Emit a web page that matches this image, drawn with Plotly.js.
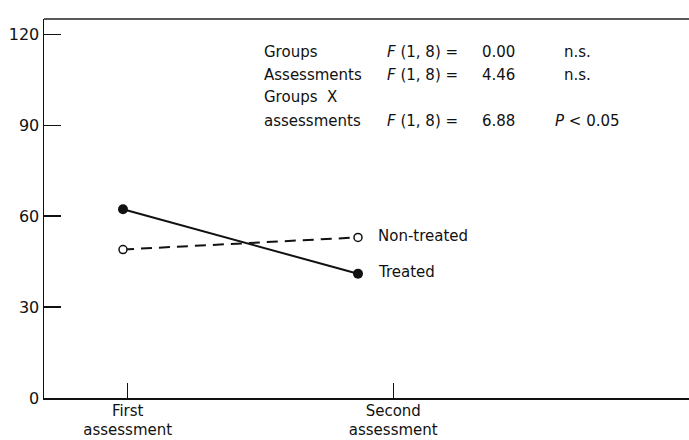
<!DOCTYPE html>
<html>
<head>
<meta charset="utf-8">
<script src="https://cdn.plot.ly/plotly-3.0.1.min.js"></script>
<style>html,body{margin:0;padding:0;background:#fff;}#chart{width:689px;height:440px;}</style>
</head>
<body>
<div id="chart"></div>
<script>
// Data
const assessments = [1, 2];
const treated = [62.3, 41];
const nonTreated = [49, 53];
const seriesNames = ['Treated', 'Non-treated'];
const xTickLabels = ['First<br>assessment', 'Second<br>assessment'];
const yTickVals = [0, 30, 60, 90, 120];
const statLabels = ['Groups', 'Assessments', 'Groups  X', 'assessments'];
const statF = ['<i>F</i> (1, 8) =', '<i>F</i> (1, 8) =', '', '<i>F</i> (1, 8) ='];
const statValues = ['0.00', '4.46', '', '6.88'];
const statSig = ['n.s.', 'n.s.', '', '<i>P</i> < 0.05'];

const W = 689, H = 440, L = 44, R = 0, T = 19, B = 42;
const pw = W - L - R, ph = H - T - B;
const px = x => (x - L) / pw;
const py = y => (H - B - y) / ph;

const font = {family: 'DejaVu Sans, Arial, sans-serif', size: 15, color: '#111'};

const traces = [
  {x: assessments, y: treated, name: seriesNames[0], mode: 'lines+markers',
   line: {color: '#111', width: 2}, marker: {color: '#111', size: 10, symbol: 'circle'}},
  {x: assessments, y: nonTreated, name: seriesNames[1], mode: 'lines+markers',
   line: {color: '#111', width: 2, dash: '11px,7px'},
   marker: {color: '#fff', size: 8, symbol: 'circle', line: {color: '#111', width: 1.5}}}
];

const annotations = [];
annotations.push({x: assessments[1], y: nonTreated[1], xref: 'x', yref: 'y', text: seriesNames[1],
  showarrow: false, xanchor: 'left', yanchor: 'middle', xshift: 18, yshift: 1, font: font});
annotations.push({x: assessments[1], y: treated[1], xref: 'x', yref: 'y', text: seriesNames[0],
  showarrow: false, xanchor: 'left', yanchor: 'middle', xshift: 18, yshift: 2, font: font});

const rowY = [52, 75, 97, 121];
const cols = [262, 385, 480, 562];
for (let i = 0; i < statLabels.length; i++) {
  const parts = [statLabels[i], statF[i], statValues[i], statSig[i]];
  parts.forEach((t, j) => {
    if (!t) return;
    let cx = cols[j];
    if (j === 3 && t.indexOf('P') >= 0) cx = 553;
    annotations.push({x: px(cx), y: py(rowY[i]), xref: 'paper', yref: 'paper', text: t,
      showarrow: false, xanchor: 'left', yanchor: 'middle', font: font});
  });
}

const layout = {
  width: W, height: H,
  margin: {l: L, r: R, t: T, b: B, pad: 0},
  paper_bgcolor: '#fff', plot_bgcolor: '#fff',
  showlegend: false,
  font: font,
  xaxis: {
    range: [1 - (123 - L) / 235, 2 + (W - 358) / 235],
    tickvals: [1.02, 2.15], ticktext: xTickLabels,
    ticks: 'inside', ticklen: 15, tickwidth: 1.5, tickcolor: '#111',
    ticklabelstandoff: -2,
    showline: true, linecolor: '#111', linewidth: 1.5, mirror: false,
    showgrid: false, zeroline: false, tickfont: {family: font.family, size: 15, color: '#111'}
  },
  yaxis: {
    range: [0, ph / 3.03],
    tickvals: yTickVals,
    ticks: 'inside', ticklen: 17, tickwidth: 1.5, tickcolor: '#111',
    showline: true, linecolor: '#111', linewidth: 1.5,
    showgrid: false, zeroline: false, tickfont: {family: font.family, size: 16, color: '#111'}
  },
  shapes: [
    {type: 'line', xref: 'paper', yref: 'paper', x0: 0, x1: 1, y0: 1, y1: 1,
     line: {color: '#222', width: 1.5}}
  ],
  annotations: annotations
};

Plotly.newPlot('chart', traces, layout, {displayModeBar: false, staticPlot: true});
</script>
</body>
</html>
